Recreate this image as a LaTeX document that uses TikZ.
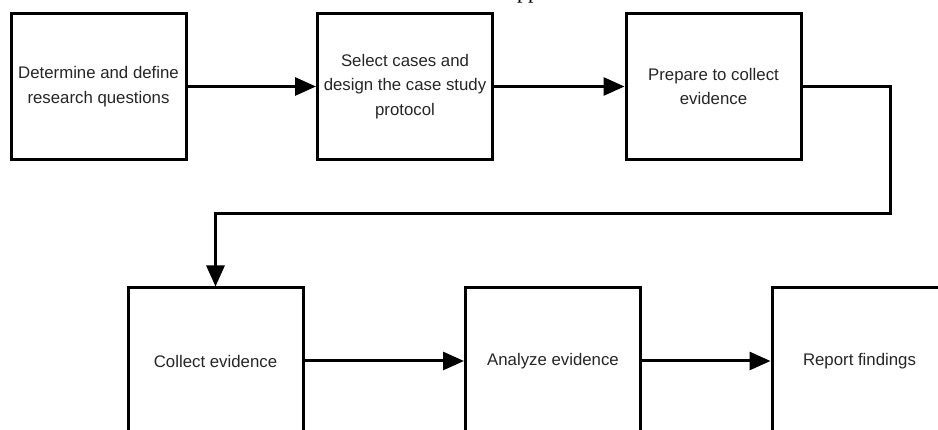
\documentclass[tikz,border=0pt]{standalone}
\usepackage{fontspec}
\setmainfont{Liberation Sans}
\newfontfamily\serifcut{Liberation Serif}
\usetikzlibrary{arrows.meta}
\begin{document}
\begin{tikzpicture}[x=1pt,y=-1pt,
  stepbox/.style={draw,line width=3pt,minimum width=175pt,minimum height=146pt,
    inner sep=0pt,align=center,font=\fontsize{16.8}{24.5}\selectfont,text=black!85},
  conn/.style={line width=3pt,-{Triangle[length=21pt,width=18pt]}}]
\useasboundingbox (0,0) rectangle (938,430);
\fill[white] (0,0) rectangle (938,430);
\clip (0,0) rectangle (938,430);
\node[anchor=base west,inner sep=0pt,font=\serifcut\fontsize{22}{22}\selectfont] (cut) at (517,-1) {pp};
\node[stepbox] (b1) at (98.5,86.5) {Determine and define\\research questions};
\node[stepbox] (b2) at (405,86.5) {Select cases and\\design the case study\\protocol};
\node[stepbox] (b3) at (713.5,86.5) {Prepare to collect\\evidence};
\node[stepbox] (b4) at (215.5,361) {Collect evidence};
\node[stepbox] (b5) at (553,361) {Analyze evidence};
\node[stepbox] (b6) at (859.5,361) {Report findings};
\coordinate (t1) at (890,214);
\coordinate (t2) at (215.5,214);
\draw[conn] (b1) -- (b2);
\draw[conn] (b2) -- (b3);
\draw[conn] (b3.east) -| (t1) -- (t2) -- (b4.north);
\draw[conn] (b4) -- (b5);
\draw[conn] (b5) -- (b6);
\end{tikzpicture}
\end{document}
